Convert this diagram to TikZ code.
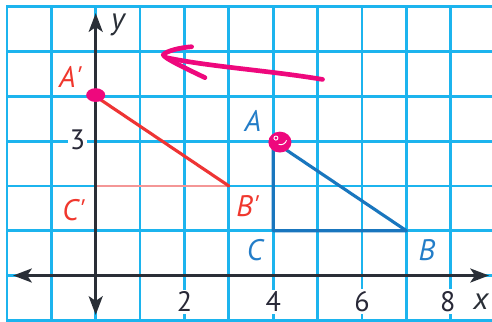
\documentclass[tikz,border=0pt]{standalone}
\usepackage{fontspec}
\setmainfont{PT Sans}
\usetikzlibrary{arrows.meta,shapes.geometric}
\definecolor{gridblue}{RGB}{28,180,238}
\definecolor{axisgray}{RGB}{42,47,55}
\definecolor{redtri}{RGB}{238,52,52}
\definecolor{redlight}{RGB}{244,150,150}
\definecolor{bluetri}{RGB}{25,118,190}
\definecolor{redlab}{RGB}{240,55,45}
\definecolor{bluelab}{RGB}{35,125,200}
\definecolor{numcol}{RGB}{40,40,55}
\definecolor{marker}{RGB}{238,8,125}
\begin{document}
\begin{tikzpicture}[x=1cm,y=1.0086cm,
  gridline/.style={gridblue, line width=1.8pt, line cap=rect},
  axisline/.style={axisgray, line width=1.6pt,
     {Stealth[length=12pt,width=9pt,inset=3pt]}-{Stealth[length=12pt,width=9pt,inset=3pt]}},
  ptlabel/.style={font=\fontsize{19}{19}\selectfont\itshape, inner sep=0pt},
  axlabel/.style={font=\fontsize{20}{20}\selectfont\itshape, text=axisgray, inner sep=0pt},
  numlabel/.style={font=\fontsize{18}{18}\selectfont, text=numcol, fill=white, inner sep=1.5pt},
  redside/.style={redtri, line width=2pt, line cap=round},
  redfaint/.style={redlight, line width=1.6pt},
  blueside/.style={bluetri, line width=2pt, line join=round},
  dotmark/.style={ellipse, fill=marker, draw=none, inner sep=0pt},
  scribble/.style={marker, line width=3pt, line cap=round, line join=round}]
\useasboundingbox (-2.156,-1.016) rectangle (8.928,6.154);
\fill[white] (-2.156,-1.016) rectangle (8.928,6.154);
% grid
\foreach \i in {-2,...,8} \draw[gridline] (\i,-1) -- (\i,6);
\foreach \j in {-1,...,6} \draw[gridline] (-2,\j) -- (8.93,\j);
% triangle vertices
\coordinate (Ap) at (0,4);
\coordinate (Bp) at (3,2);
\coordinate (Cp) at (0,2);
\coordinate (A) at (4,3);
\coordinate (B) at (7,1);
\coordinate (C) at (4,1);
% red triangle
\draw[redfaint] (Cp) -- (Bp);
\draw[redside] (Ap) -- (Bp);
% blue triangle
\draw[blueside] (A) -- (B) -- (C) -- cycle;
% axes
\coordinate (xl) at (-1.86,0);
\coordinate (xr) at (8.86,0);
\coordinate (yb) at (0,-0.88);
\coordinate (yt) at (0,5.86);
\draw[axisline] (xl) -- (xr);
\draw[axisline] (yb) -- (yt);
% axis labels and numbers
\node[axlabel] (ylab) at (0.50,5.60) {y};
\node[axlabel] (xlab) at (8.68,-0.58) {x};
\node[numlabel] (n3) at (-0.41,3.03) {3};
\node[numlabel] (n2) at (2,-0.59) {2};
\node[numlabel] (n4) at (4,-0.59) {4};
\node[numlabel] (n6) at (6,-0.59) {6};
\node[numlabel] (n8) at (7.93,-0.59) {8};
% point labels
\node[ptlabel, text=redlab] (lAp) at (-0.57,4.43) {A\textquotesingle};
\node[ptlabel, text=redlab] (lCp) at (-0.50,1.45) {C\textquotesingle};
\node[ptlabel, text=redlab] (lBp) at (3.42,1.55) {B\textquotesingle};
\node[ptlabel, text=bluelab] (lA) at (3.54,3.45) {A};
\node[ptlabel, text=bluelab] (lC) at (3.59,0.56) {C};
\node[ptlabel, text=bluelab] (lB) at (7.46,0.56) {B};
% pink marks
\node[dotmark, minimum width=0.43cm, minimum height=0.31cm] (dAp) at (0,4.03) {};
\node[dotmark, minimum width=0.52cm, minimum height=0.47cm] (dA) at (4.15,2.98) {};
\draw[white, line width=0.6pt] (4.06,3.07) circle [radius=0.045];
\draw[white, line width=0.6pt] (4.12,2.93) .. controls (4.2,2.9) and (4.28,2.95) .. (4.3,3.02);
% hand-drawn arrow
\coordinate (s0) at (5.11,4.38);
\coordinate (s1) at (1.62,4.86);
\coordinate (h0) at (2.46,4.42);
\coordinate (tip) at (1.52,4.93);
\coordinate (h1) at (2.16,5.11);
\draw[scribble] (s0) .. controls (3.9,4.58) and (2.6,4.66) .. (s1);
\draw[scribble] (h0) .. controls (2.0,4.64) and (1.55,4.85) .. (tip)
   .. controls (1.6,5.02) and (1.9,5.09) .. (h1);
\end{tikzpicture}
\end{document}
